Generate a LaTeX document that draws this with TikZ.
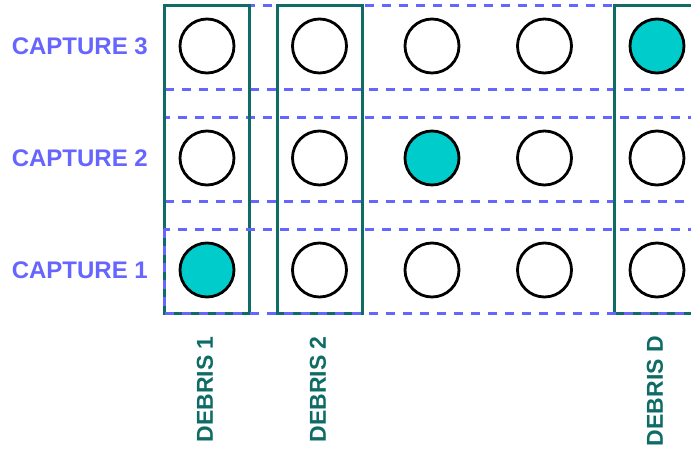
\documentclass[tikz,border=0pt]{standalone}
\usepackage{fontspec}
\setmainfont{Liberation Sans}
\usepackage{xcolor}
\usetikzlibrary{positioning}
\definecolor{capB}{HTML}{6666FF}
\definecolor{debT}{HTML}{0E6B66}
\definecolor{hitC}{HTML}{00CCCC}

\begin{document}
\begin{tikzpicture}[x=1pt, y=-1pt,
  dot/.style={circle, draw=black, line width=2.8pt, minimum size=54pt, inner sep=0pt},
  caprow/.style={draw=capB, line width=3pt, dash pattern=on 9pt off 8pt},
  debcol/.style={draw=debT, line width=3pt},
  caplab/.style={capB, font=\fontsize{24}{27}\selectfont\bfseries, anchor=east, inner sep=0pt},
  deblab/.style={debT, font=\fontsize{23}{26}\selectfont\bfseries, rotate=90, anchor=east, inner sep=0pt}]
  \useasboundingbox (0,0) rectangle (691,450);
  \clip (0,0) rectangle (691,450);
  % capture rows 3 and 2 (under the debris columns)
  \foreach \y in {47, 159}{
    \draw[caprow] (164,\y-42) rectangle (712,\y+42);
  }
  % debris columns
  \foreach \x in {206.5, 319.5, 656.5}{
    \draw[debcol] (\x-42.5,5) rectangle (\x+42.5,313);
  }
  % capture row 1 on top
  \draw[caprow] (164,229) rectangle (712,313);
  % circles, one hit per row
  \foreach \r/\y in {1/270, 2/158, 3/46}{
    \pgfmathtruncatemacro\k{2*\r-1}
    \foreach \c/\x in {1/207, 2/319.5, 3/432, 4/544.5, 5/657}{
      \ifnum\c=\k \def\fc{hitC}\else \def\fc{white}\fi
      \node[dot, fill=\fc] (c\r\c) at (\x,\y) {};
    }
  }
  % labels
  \foreach \r/\y in {1/270, 2/158, 3/46}
    \node[caplab] (cap\r) at (148,\y) {CAPTURE \r};
  \foreach \n/\lab/\x in {1/1/205, 2/2/318, 3/D/655}
    \node[deblab] (deb\n) at (\x,336) {DEBRIS \lab};
\end{tikzpicture}
\end{document}
